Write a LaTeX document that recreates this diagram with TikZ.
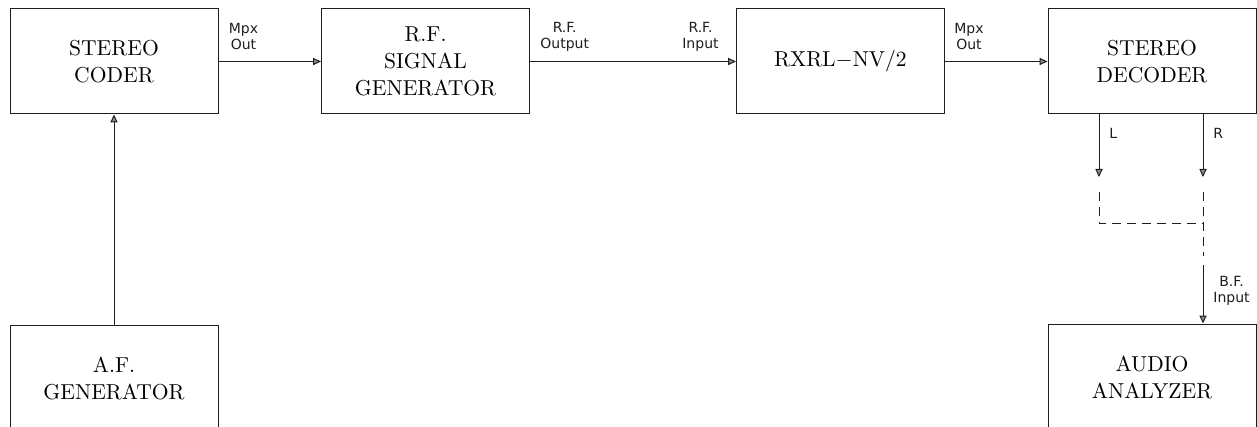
\documentclass[tikz,border=0pt]{standalone}
\usepackage{fontspec}
\newfontfamily\labelfont{DejaVu Sans}
\usetikzlibrary{arrows.meta,positioning,calc}
\definecolor{Ink}{RGB}{30,30,30}
\definecolor{TipGray}{RGB}{140,140,140}
\tikzset{
  blk/.style     ={rectangle, draw=Ink, line width=.5pt, align=center,
                   minimum width=104pt, minimum height=52.5pt, inner sep=0pt,
                   font=\fontsize{10.8}{13.5}\selectfont},
  blktall/.style ={blk, minimum height=54pt},
  arr/.style     ={-{Triangle[length=4pt,width=3.6pt,fill=TipGray]}, draw=Ink, line width=.5pt},
  brk/.style     ={draw=Ink, line width=.5pt, dash pattern=on 4.5pt off 3pt},
  lbl/.style     ={font=\labelfont\fontsize{7}{8}\selectfont, align=center,
                   inner sep=0pt, text=Ink},
}

\begin{document}
\begin{tikzpicture}[x=0.5pt,y=-0.5pt]
  \useasboundingbox (0,0) rectangle (1257,427);
  \clip (0,0) rectangle (1257,427);
  % top row
  \node[blk] (coder) at (114,61.5) {STEREO\\CODER};
  \node[blk] (rfgen) at (425.5,61.5) {R.F.\\SIGNAL\\GENERATOR};
  \node[blk] (rxrl) at (840.5,61.5) {RXRL$-$NV/2};
  \node[blk] (decoder) at (1152,61.5) {STEREO\\DECODER};
  % bottom row
  \node[blktall] (afgen) at (114,379) {A.F.\\GENERATOR};
  \node[blktall] (analyzer) at (1152,378) {AUDIO\\ANALYZER};
  \foreach \a/\b in {coder/rfgen,rfgen/rxrl,rxrl/decoder}{\draw[arr] (\a.east) -- (\b.west);}
  \draw[arr] (afgen.north) -- (coder.south);
  % decoder outputs
  \coordinate (lout) at (1099,177);
  \coordinate (rout) at (1203,177);
  \coordinate (ltop) at (decoder.south -| lout);
  \coordinate (rtop) at (decoder.south -| rout);
  \draw[arr] (ltop) -- (lout);
  \draw[arr] (rtop) -- (rout);
  \coordinate (lbrk) at (1099,192);
  \coordinate (rbrk) at (1203,192);
  \coordinate (jn) at (1203,224);
  \coordinate (rend) at (1203,256);
  \coordinate (bfin) at (1203,265);
  \coordinate (bftop) at (analyzer.north -| bfin);
  \draw[brk] (lbrk) |- (jn);
  \draw[brk] (rbrk) -- (rend);
  \draw[arr] (bfin) -- (bftop);
  % labels
  \node[lbl,above right=5.5pt and 5pt of coder.east] (mpxA) {Mpx\\Out};
  \node[lbl,above right=5pt and 5pt of rfgen.east] (rfout) {R.F.\\Output};
  \node[lbl,above left=5pt and 8.5pt of rxrl.west] (rfin) {R.F.\\Input};
  \node[lbl,above right=5.5pt and 4.5pt of rxrl.east] (mpxB) {Mpx\\Out};
  \node[lbl,below right=6.5pt and 5pt of ltop] (lch) {L};
  \node[lbl,below right=6.5pt and 5pt of rtop] (rch) {R};
  \node[lbl,above right=9pt and 5pt of bftop] (bfl) {B.F.\\Input};
\end{tikzpicture}
\end{document}
